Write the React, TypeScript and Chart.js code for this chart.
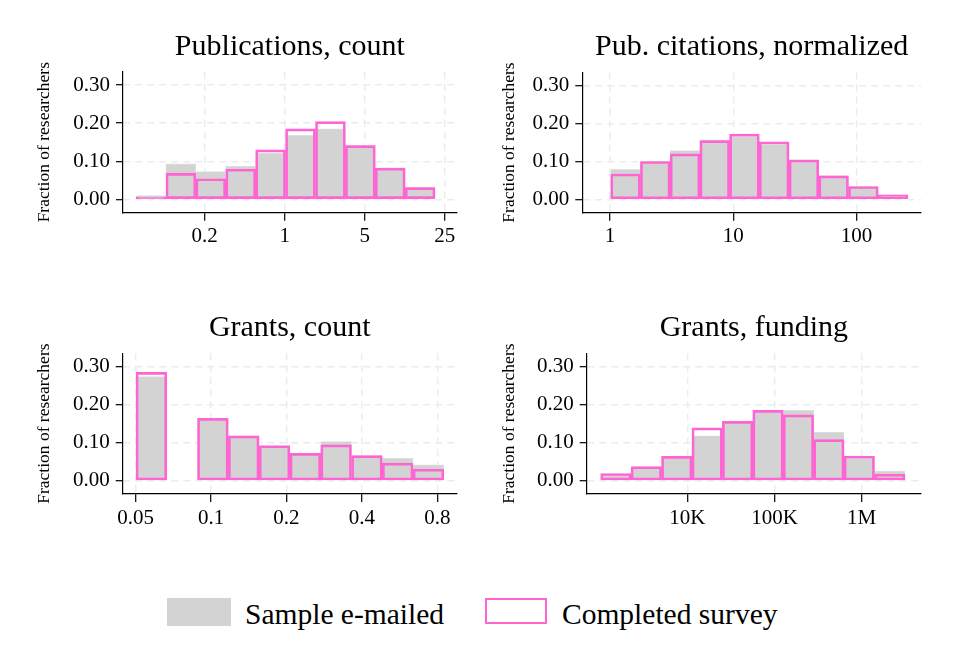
import React, { useEffect, useRef } from 'react';
import { Chart, registerables } from 'chart.js';

Chart.register(...registerables);

const FONT = "'Liberation Serif', 'Times New Roman', serif";
const GRAY = '#d3d3d3';
const PINK = '#ff64d2';
const GRID = '#ececec';

// bin centres (log spaced) and fraction of researchers per bin
const pubBins = [0.068, 0.124, 0.226, 0.413, 0.753, 1.374, 2.51, 4.58, 8.35, 15.24];
const pubSample = [0.010, 0.093, 0.073, 0.087, 0.121, 0.168, 0.185, 0.142, 0.083, 0.032];
const pubSurvey = [0.006, 0.068, 0.054, 0.079, 0.130, 0.185, 0.204, 0.141, 0.082, 0.031];
const pubTicks = [0.2, 1, 5, 25];
const pubLabels = ['0.2', '1', '5', '25'];

const citBins = [1.337, 2.329, 4.057, 7.067, 12.31, 21.45, 37.36, 65.08, 113.4, 197.5];
const citSample = [0.079, 0.101, 0.129, 0.157, 0.165, 0.146, 0.105, 0.063, 0.034, 0.012];
const citSurvey = [0.067, 0.100, 0.120, 0.155, 0.172, 0.152, 0.104, 0.062, 0.034, 0.012];
const citTicks = [1, 10, 100];
const citLabels = ['1', '10', '100'];

const grantBins = [0.0578, 0.0767, 0.1017, 0.135, 0.1792, 0.2378, 0.3156, 0.4188, 0.5558, 0.7376];
const grantSample = [0.274, 0, 0.163, 0.118, 0.093, 0.072, 0.103, 0.066, 0.059, 0.042];
const grantSurvey = [0.285, 0, 0.164, 0.118, 0.092, 0.072, 0.094, 0.066, 0.046, 0.030];
const grantTicks = [0.05, 0.1, 0.2, 0.4, 0.8];
const grantLabels = ['0.05', '0.1', '0.2', '0.4', '0.8'];

const fundBins = [1518, 3390, 7570, 16900, 37740, 84280, 188200, 420300, 938500, 2096000];
const fundSample = [0.017, 0.035, 0.060, 0.118, 0.155, 0.181, 0.185, 0.127, 0.063, 0.025];
const fundSurvey = [0.019, 0.037, 0.064, 0.139, 0.156, 0.185, 0.173, 0.108, 0.065, 0.017];
const fundTicks = [10000, 100000, 1000000];
const fundLabels = ['10K', '100K', '1M'];

const yTicks = [0, 0.1, 0.2, 0.3];

type Box = { left: number; top: number; width: number; height: number };
type Area = { left: number; right: number; top: number; bottom: number };
type PanelDef = {
  title: string;
  bins: number[];
  sample: number[];
  survey: number[];
  ticks: number[];
  labels: string[];
  xMin: number;
  xMax: number;
  box: Box;
  area: Area;
  titleY: number;
  yTitleX: number;
};

const PANELS: PanelDef[] = [
  {
    title: 'Publications, count', bins: pubBins, sample: pubSample, survey: pubSurvey,
    ticks: pubTicks, labels: pubLabels, xMin: 0.0387, xMax: 31.8,
    box: { left: 0, top: 0, width: 478, height: 290 },
    area: { left: 123, right: 456.7, top: 71.7, bottom: 212.7 },
    titleY: 47, yTitleX: 44,
  },
  {
    title: 'Pub. citations, normalized', bins: citBins, sample: citSample, survey: citSurvey,
    ticks: citTicks, labels: citLabels, xMin: 0.596, xMax: 332.8,
    box: { left: 478, top: 0, width: 479, height: 290 },
    area: { left: 582.3, right: 921, top: 72.3, bottom: 212.7 },
    titleY: 47, yTitleX: 509,
  },
  {
    title: 'Grants, count', bins: grantBins, sample: grantSample, survey: grantSurvey,
    ticks: grantTicks, labels: grantLabels, xMin: 0.0444, xMax: 0.956,
    box: { left: 0, top: 290, width: 478, height: 270 },
    area: { left: 122.7, right: 456.7, top: 353.3, bottom: 494 },
    titleY: 328, yTitleX: 44,
  },
  {
    title: 'Grants, funding', bins: fundBins, sample: fundSample, survey: fundSurvey,
    ticks: fundTicks, labels: fundLabels, xMin: 702, xMax: 4790000,
    box: { left: 478, top: 290, width: 479, height: 270 },
    area: { left: 586.7, right: 921, top: 353.3, bottom: 494 },
    titleY: 328, yTitleX: 509,
  },
];

function makeConfig(p: PanelDef): any {
  const { box, area } = p;
  const titleSize = 30;
  const titleHalf = (titleSize * 1.2) / 2;
  const titleCenter = p.titleY - box.top;
  const yTitleSize = 17.5;
  const tickSize = 21;
  const axisBorder = { display: true, color: '#000', width: 1.2, dash: [7, 5] };
  const gridOpts = (tickLength: number) => ({
    color: GRID,
    lineWidth: 1.4,
    offset: false,
    borderDash: [7, 5],
    tickColor: '#000',
    tickLength,
    tickWidth: 1.2,
    tickBorderDash: [],
  });

  return {
    type: 'bar',
    data: {
      datasets: [
        {
          label: 'Completed survey',
          data: p.bins.map((x, i) => ({ x, y: p.survey[i] })),
          backgroundColor: 'rgba(0,0,0,0)',
          borderColor: PINK,
          borderWidth: 2,
          borderSkipped: false,
          grouped: false,
          barPercentage: 1,
          categoryPercentage: 1,
          order: 1,
        },
        {
          label: 'Sample e-mailed',
          data: p.bins.map((x, i) => ({ x, y: p.sample[i] })),
          backgroundColor: GRAY,
          borderColor: '#e0e0e0',
          borderWidth: 0.8,
          borderSkipped: false,
          grouped: false,
          barPercentage: 1,
          categoryPercentage: 1,
          order: 2,
        },
      ],
    },
    options: {
      animation: false,
      responsive: false,
      layout: { padding: { left: 0, top: 0, bottom: 0, right: box.left + box.width - area.right } },
      plugins: {
        legend: { display: false },
        tooltip: { enabled: false },
        title: {
          display: true,
          text: p.title,
          fullSize: false,
          color: '#000',
          font: { family: FONT, size: titleSize, weight: 'normal', lineHeight: 1.2 },
          padding: {
            top: titleCenter - titleHalf,
            bottom: area.top - box.top - titleCenter - titleHalf,
          },
        },
      },
      scales: {
        x: {
          type: 'logarithmic',
          min: p.xMin,
          max: p.xMax,
          bounds: 'data',
          offset: false,
          afterBuildTicks: (s: any) => {
            s.ticks = p.ticks.map((v) => ({ value: v }));
          },
          afterFit: (s: any) => {
            s.height = box.top + box.height - area.bottom;
          },
          ticks: {
            autoSkip: false,
            maxRotation: 0,
            padding: 3.5,
            color: '#000',
            font: { family: FONT, size: tickSize },
            callback: (_v: any, i: number) => p.labels[i],
          },
          grid: gridOpts(8),
          border: axisBorder,
        },
        y: {
          type: 'linear',
          min: -0.035,
          max: 0.335,
          afterBuildTicks: (s: any) => {
            s.ticks = yTicks.map((v) => ({ value: v }));
          },
          afterFit: (s: any) => {
            s.width = area.left - box.left;
          },
          ticks: {
            padding: 6,
            color: '#000',
            font: { family: FONT, size: tickSize },
            callback: (v: any) => Number(v).toFixed(2),
          },
          grid: gridOpts(7),
          border: axisBorder,
          title: {
            display: true,
            text: 'Fraction of researchers',
            color: '#000',
            font: { family: FONT, size: yTitleSize, lineHeight: 1.2 },
            padding: { top: p.yTitleX - box.left - (yTitleSize * 1.2) / 2, bottom: 0 },
          },
        },
      },
    },
  };
}

function Panel({ def }: { def: PanelDef }) {
  const canvasRef = useRef<HTMLCanvasElement | null>(null);

  useEffect(() => {
    const canvas = canvasRef.current;
    if (!canvas) return;
    const chart = new Chart(canvas, makeConfig(def));
    return () => chart.destroy();
  }, [def]);

  const { box } = def;
  return (
    <div style={{ position: 'absolute', left: box.left, top: box.top, width: box.width, height: box.height }}>
      <canvas ref={canvasRef} width={box.width} height={box.height} style={{ display: 'block' }} />
    </div>
  );
}

const legendText: React.CSSProperties = {
  position: 'absolute',
  top: 600,
  height: 28,
  lineHeight: '28px',
  fontFamily: FONT,
  fontSize: 29.5,
  color: '#000',
  whiteSpace: 'nowrap',
};

export default function App() {
  return (
    <div style={{ position: 'absolute', left: 0, top: 0, width: 957, height: 662, background: '#fff', overflow: 'hidden' }}>
      {PANELS.map((p) => (
        <Panel key={p.title} def={p} />
      ))}
      <div style={{ position: 'absolute', left: 167, top: 598, width: 64, height: 28, background: GRAY }} />
      <div style={{ ...legendText, left: 245 }}>Sample e-mailed</div>
      <div
        style={{
          position: 'absolute', left: 485, top: 598, width: 62, height: 26,
          border: `2px solid ${PINK}`, boxSizing: 'border-box',
        }}
      />
      <div style={{ ...legendText, left: 562 }}>Completed survey</div>
    </div>
  );
}
